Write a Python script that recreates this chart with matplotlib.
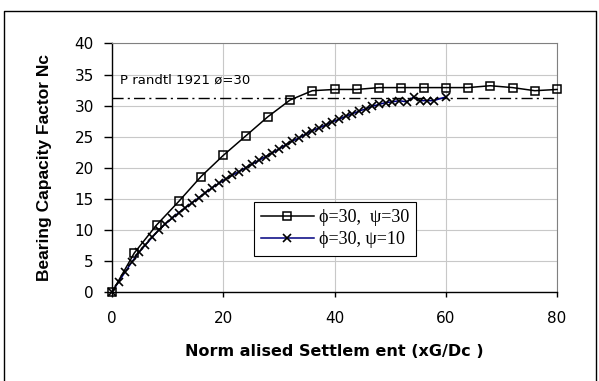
import matplotlib
matplotlib.use('Agg')
import matplotlib.pyplot as plt
from matplotlib.lines import Line2D

# psi = 30 series (squares)
x_psi30 = [0, 4, 8, 12, 16, 20, 24, 28, 32, 36, 40, 44, 48, 52, 56, 60, 64, 68, 72, 76, 80]
y_psi30 = [0, 6.3, 10.8, 14.6, 18.6, 22.0, 25.1, 28.2, 30.9, 32.4, 32.6, 32.6, 32.9, 32.9,
           32.9, 32.9, 32.9, 33.2, 32.9, 32.4, 32.6]

# psi = 10 series (crosses)
x_psi10 = [0, 1.2, 2.4, 3.6, 4.8, 6.0, 7.2, 8.4, 9.6, 10.8, 12.0, 13.2, 14.4, 15.6, 16.8,
           18.0, 19.2, 20.4, 21.6, 22.8, 24.0, 25.2, 26.4, 27.6, 28.8, 30.0, 31.2, 32.4,
           33.6, 34.8, 36.0, 37.2, 38.4, 39.6, 40.8, 42.0, 43.2, 44.4, 45.6, 46.8, 48.0,
           49.2, 50.4, 51.6, 53.0, 54.2, 55.4, 56.6, 57.8, 60.0]
y_psi10 = [0, 1.7, 3.3, 4.9, 6.4, 7.6, 8.8, 10.0, 11.0, 11.9, 12.8, 13.6, 14.4, 15.2, 16.0,
           16.8, 17.5, 18.2, 18.8, 19.4, 20.0, 20.6, 21.2, 21.8, 22.4, 23.0, 23.7, 24.3,
           24.8, 25.4, 26.0, 26.4, 26.9, 27.4, 27.8, 28.3, 28.7, 29.1, 29.5, 29.9, 30.2,
           30.5, 30.6, 30.8, 30.6, 31.4, 30.8, 30.8, 30.8, 31.4]

prandtl_nc = 31.2
x_ticks = [0, 20, 40, 60, 80]
y_ticks = [0, 5, 10, 15, 20, 25, 30, 35, 40]

plt.rcParams['font.family'] = ['DejaVu Sans']

fig = plt.figure(figsize=(5.99, 3.81), dpi=100)
ax = fig.add_axes([0.187, 0.233, 0.743, 0.653])

ax.plot(x_psi30, y_psi30, color='black', lw=1.1, marker='s', ms=6, mfc='none',
        mec='black', mew=1.1, clip_on=False, zorder=4, label='\u03d5=30,  \u03c8=30')
ax.plot(x_psi10, y_psi10, color='#000080', lw=1.1, marker='x', ms=5.5, mec='black',
        mew=1.2, clip_on=False, zorder=3, label='\u03d5=30, \u03c8=10')
ax.plot([0, 80], [prandtl_nc, prandtl_nc], color='black', lw=1.0, ls=(0, (8, 3, 1.5, 3)),
        zorder=2)
ax.text(1.5, 33.0, 'P randtl 1921 \u00f8=30', fontsize=9.5, va='bottom', ha='left')

ax.set_xlim(0, 80)
ax.set_ylim(0, 40)
ax.set_xticks(x_ticks)
ax.set_yticks(y_ticks)
ax.grid(True, color='#c8c8c8', lw=0.8)
ax.set_axisbelow(True)
for s in ['top', 'right']:
    ax.spines[s].set_color('#808080')
    ax.spines[s].set_linewidth(0.8)
for s in ['left', 'bottom']:
    ax.spines[s].set_color('black')
    ax.spines[s].set_linewidth(1.0)
ax.tick_params(axis='y', direction='out', length=6, width=1, pad=7, labelsize=11)
ax.tick_params(axis='x', direction='out', length=3.5, width=1, pad=10, labelsize=11)

ax.set_xlabel('Norm alised Settlem ent (xG/Dc )', fontsize=11.5, fontweight='bold',
              labelpad=13)
ax.set_ylabel('Bearing Capacity Factor Nc', fontsize=12.5, fontweight='bold',
              family='Liberation Sans', labelpad=16)

leg = ax.legend(loc='upper left', bbox_to_anchor=(0.319, 0.364), borderaxespad=0,
                frameon=True, fancybox=False, handlelength=2.9,
                prop={'family': 'Liberation Serif', 'size': 13},
                borderpad=0.4, labelspacing=0.3, handletextpad=0.3)
leg.get_frame().set_edgecolor('black')
leg.get_frame().set_linewidth(0.8)
leg.get_frame().set_alpha(1)

# outer chart border
fig.add_artist(Line2D([4 / 599, 4 / 599, 596 / 599, 596 / 599],
                      [-0.01, 1 - 11 / 381, 1 - 11 / 381, -0.01],
                      transform=fig.transFigure, color='black', lw=1.0))

fig.savefig('out.png', dpi=100)
